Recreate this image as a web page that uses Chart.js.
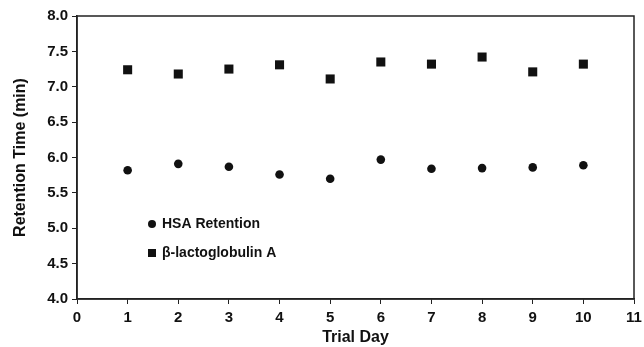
<!DOCTYPE html>
<html>
<head>
<meta charset="utf-8">
<script src="https://cdn.jsdelivr.net/npm/chart.js@4.4.0/dist/chart.umd.min.js"></script>
<style>
  html, body { margin: 0; padding: 0; background: #fff; }
</style>
</head>
<body>
<canvas id="retentionChart" width="644" height="347"></canvas>
<script>
// giorni della prova e tempi di ritenzione
const trialDays = [1, 2, 3, 4, 5, 6, 7, 8, 9, 10];
const hsaRetention = [5.82, 5.91, 5.87, 5.76, 5.70, 5.97, 5.84, 5.85, 5.86, 5.89];
const lactoRetention = [7.24, 7.18, 7.25, 7.31, 7.11, 7.35, 7.32, 7.42, 7.21, 7.32];
const seriesNames = ['HSA Retention', 'β-lactoglobulin A'];

const FONT = 'Liberation Sans, Arial, Helvetica, sans-serif';
const INK = '#111';

// cornice attorno all'area del grafico + legenda interna
const framePlugin = {
    id: 'frame',
    afterDraw(chart) {
        const { ctx, chartArea: a } = chart;
        ctx.save();
        ctx.strokeStyle = '#222';
        ctx.lineWidth = 1.5;
        ctx.strokeRect(a.left, a.top, a.right - a.left, a.bottom - a.top);

        // legenda
        const lx = a.left + 75;
        const ly1 = a.top + 208;
        const ly2 = a.top + 237;
        ctx.fillStyle = INK;
        ctx.beginPath();
        ctx.arc(lx, ly1, 4, 0, Math.PI * 2);
        ctx.fill();
        ctx.fillRect(lx - 4, ly2 - 4, 8, 8);
        ctx.font = 'bold 14px ' + FONT;
        ctx.textBaseline = 'middle';
        ctx.fillText(seriesNames[0], lx + 10, ly1);
        ctx.fillText(seriesNames[1], lx + 10, ly2);
        ctx.restore();
    }
};

const ctx = document.getElementById('retentionChart').getContext('2d');

const myChart = new Chart(ctx, {
    type: 'scatter',
    data: {
        datasets: [{
            label: seriesNames[0],
            data: trialDays.map((d, i) => ({ x: d, y: hsaRetention[i] })),
            pointStyle: 'circle',
            pointRadius: 4.3,
            backgroundColor: INK,
            borderColor: INK,
            borderWidth: 0
        },
        {
            label: seriesNames[1],
            data: trialDays.map((d, i) => ({ x: d, y: lactoRetention[i] })),
            pointStyle: 'rect',
            pointRadius: 6.4,
            backgroundColor: INK,
            borderColor: INK,
            borderWidth: 0
        }]
    },
    options: {
        responsive: false,
        animation: false,
        layout: { padding: { left: 0, top: 16, right: 10, bottom: 0 } },
        plugins: {
            legend: { display: false },
            tooltip: { enabled: false }
        },
        scales: {
            x: {
                type: 'linear',
                min: 0,
                max: 11,
                afterFit(scale) {
                    scale.height = 48;
                    scale.paddingLeft = 0;
                    scale.paddingRight = 0;
                },
                ticks: {
                    stepSize: 1,
                    color: INK,
                    padding: 5,
                    font: { family: FONT, size: 15, weight: 'bold' }
                },
                grid: { drawOnChartArea: false, drawTicks: true, tickLength: 5, color: '#222' },
                border: { display: true, color: '#222', width: 1.5 },
                title: {
                    display: true,
                    text: 'Trial Day',
                    color: INK,
                    padding: { top: 0, bottom: 0 },
                    font: { family: FONT, size: 16, weight: 'bold' }
                }
            },
            y: {
                min: 4,
                max: 8,
                afterFit(scale) { scale.width = 77; },
                ticks: {
                    stepSize: 0.5,
                    color: INK,
                    padding: 4,
                    callback: v => v.toFixed(1),
                    font: { family: FONT, size: 15, weight: 'bold' }
                },
                grid: { drawOnChartArea: false, drawTicks: true, tickLength: 5, color: '#222' },
                border: { display: true, color: '#222', width: 1.5 },
                title: {
                    display: true,
                    text: 'Retention Time (min)',
                    color: INK,
                    padding: { top: 11, bottom: 0 },
                    font: { family: FONT, size: 16, weight: 'bold' }
                }
            }
        }
    },
    plugins: [framePlugin]
});
</script>
</body>
</html>
